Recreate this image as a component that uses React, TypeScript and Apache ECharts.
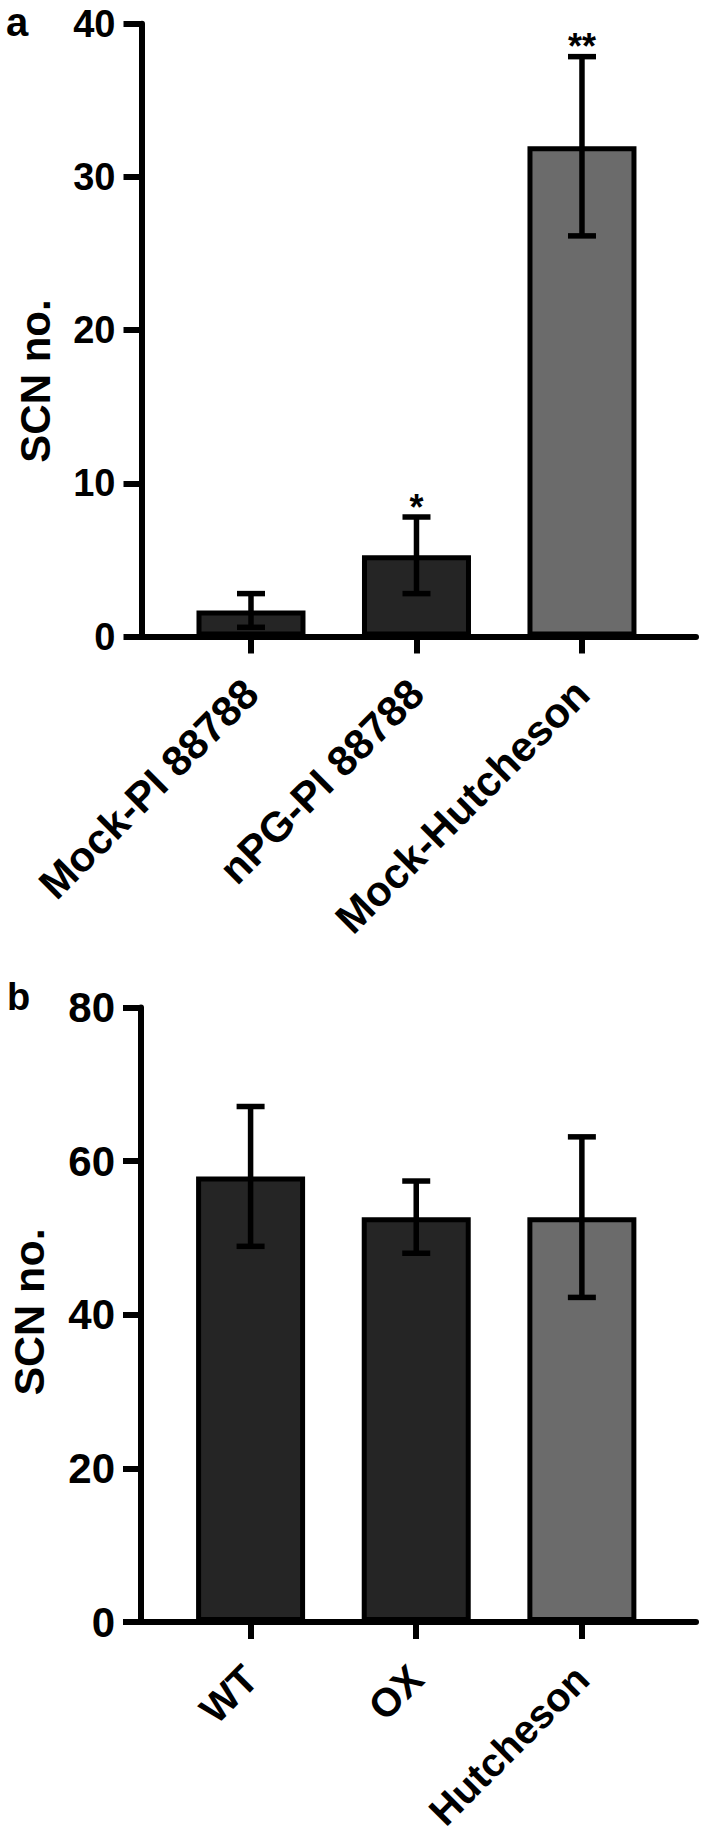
import React, { useEffect, useRef } from "react";
import * as echarts from "echarts";

const FONT = "'Liberation Sans', Arial, Helvetica, sans-serif";

// Panel a
const categoriesA = ["Mock-PI 88788", "nPG-PI 88788", "Mock-Hutcheson"];
const meansA = [1.7, 5.3, 32.0];
const errorsA = [1.1, 2.5, 5.85];
const starsA = ["", "*", "**"];
const colorsA = ["#252525", "#252525", "#6b6b6b"];
const yMaxA = 40;
const yStepA = 10;

// Panel b
const categoriesB = ["WT", "OX", "Hutcheson"];
const meansB = [58.0, 52.7, 52.7];
const errorsB = [9.1, 4.7, 10.45];
const starsB = ["", "", ""];
const colorsB = ["#252525", "#252525", "#6b6b6b"];
const yMaxB = 80;
const yStepB = 20;

const X_MIN = -0.6616;
const X_MAX = 2.689;

type PanelCfg = {
  gi: number;
  cats: string[];
  means: number[];
  errs: number[];
  stars: string[];
  colors: string[];
  yMax: number;
  yStep: number;
  yLabelSize: number;
  xLabelSize: number;
};

function buildPanel(p: PanelCfg) {
  const black = "#000";
  const xAxis = {
    gridIndex: p.gi,
    type: "value",
    min: X_MIN,
    max: X_MAX,
    axisLine: { show: true, onZero: false, lineStyle: { color: black, width: 6 } },
    axisTick: {
      show: true,
      customValues: p.cats.map((_, i) => i),
      length: 17,
      lineStyle: { color: black, width: 6 },
    },
    axisLabel: {
      customValues: p.cats.map((_, i) => i),
      rotate: 45,
      margin: 50,
      formatter: (v: number) => p.cats[Math.round(v)] ?? "",
      fontSize: p.xLabelSize,
      fontWeight: "bold",
      color: black,
      fontFamily: FONT,
    },
    splitLine: { show: false },
  };
  const yAxis = {
    gridIndex: p.gi,
    type: "value",
    min: 0,
    max: p.yMax,
    interval: p.yStep,
    axisLine: { show: true, onZero: false, lineStyle: { color: black, width: 6 } },
    axisTick: { show: true, length: 18, lineStyle: { color: black, width: 6 } },
    axisLabel: {
      margin: 26,
      fontSize: p.yLabelSize,
      fontWeight: "bold",
      color: black,
      fontFamily: FONT,
    },
    splitLine: { show: false },
  };
  const bars = {
    type: "bar",
    xAxisIndex: p.gi,
    yAxisIndex: p.gi,
    barWidth: 109,
    itemStyle: { borderColor: black, borderWidth: 5 },
    data: p.means.map((m, i) => ({ value: [i, m], itemStyle: { color: p.colors[i] } })),
    z: 2,
  };
  const errorBars = {
    type: "custom",
    xAxisIndex: p.gi,
    yAxisIndex: p.gi,
    z: 3,
    data: p.means.map((m, i) => [i, m, p.errs[i]]),
    renderItem: (params: any, api: any) => {
      const x = api.value(0);
      const m = api.value(1);
      const e = api.value(2);
      const top = api.coord([x, m + e]);
      const bot = api.coord([x, m - e]);
      const hw = 14;
      const style = { stroke: black, lineWidth: 5.5 };
      const children: any[] = [
        { type: "line", shape: { x1: top[0], y1: top[1], x2: bot[0], y2: bot[1] }, style },
        { type: "line", shape: { x1: top[0] - hw, y1: top[1], x2: top[0] + hw, y2: top[1] }, style },
        { type: "line", shape: { x1: bot[0] - hw, y1: bot[1], x2: bot[0] + hw, y2: bot[1] }, style },
      ];
      const s = p.stars[params.dataIndex];
      if (s) {
        children.push({
          type: "text",
          x: top[0],
          y: top[1] - 10,
          style: {
            text: s,
            fontSize: 36,
            fontWeight: "bold",
            fill: black,
            align: "center",
            verticalAlign: "middle",
            fontFamily: FONT,
          },
        });
      }
      return { type: "group", children };
    },
  };
  return { xAxis, yAxis, series: [bars, errorBars] };
}

export default function App() {
  const ref = useRef<HTMLDivElement>(null);
  useEffect(() => {
    document.body.style.margin = "0";
    if (!ref.current) return;
    const chart = echarts.init(ref.current, null, { renderer: "svg" });
    const a = buildPanel({
      gi: 0,
      cats: categoriesA,
      means: meansA,
      errs: errorsA,
      stars: starsA,
      colors: colorsA,
      yMax: yMaxA,
      yStep: yStepA,
      yLabelSize: 38,
      xLabelSize: 42,
    });
    const b = buildPanel({
      gi: 1,
      cats: categoriesB,
      means: meansB,
      errs: errorsB,
      stars: starsB,
      colors: colorsB,
      yMax: yMaxB,
      yStep: yStepB,
      yLabelSize: 42,
      xLabelSize: 40,
    });
    chart.setOption({
      animation: false,
      backgroundColor: "#fff",
      grid: [
        { left: 141.5, right: 8, top: 23.7, height: 612.8 },
        { left: 141, right: 8, top: 1007.4, height: 614.6 },
      ],
      xAxis: [a.xAxis, b.xAxis],
      yAxis: [a.yAxis, b.yAxis],
      series: [...a.series, ...b.series],
      graphic: [
        {
          type: "text",
          x: 6,
          y: 22,
          style: {
            text: "a",
            fontSize: 40,
            fontWeight: "bold",
            fill: "#000",
            fontFamily: FONT,
            align: "left",
            verticalAlign: "middle",
          },
        },
        {
          type: "text",
          x: 7,
          y: 997,
          style: {
            text: "b",
            fontSize: 38,
            fontWeight: "bold",
            fill: "#000",
            fontFamily: FONT,
            align: "left",
            verticalAlign: "middle",
          },
        },
        {
          type: "text",
          x: 35,
          y: 381,
          rotation: Math.PI / 2,
          style: { text: "SCN no.", fontSize: 42, fontWeight: "bold", fill: "#000", fontFamily: FONT, align: "center", verticalAlign: "middle" },
        },
        {
          type: "text",
          x: 29,
          y: 1312,
          rotation: Math.PI / 2,
          style: { text: "SCN no.", fontSize: 43, fontWeight: "bold", fill: "#000", fontFamily: FONT, align: "center", verticalAlign: "middle" },
        },
      ],
    });
    return () => chart.dispose();
  }, []);
  return <div ref={ref} style={{ width: 704, height: 1838 }} />;
}
